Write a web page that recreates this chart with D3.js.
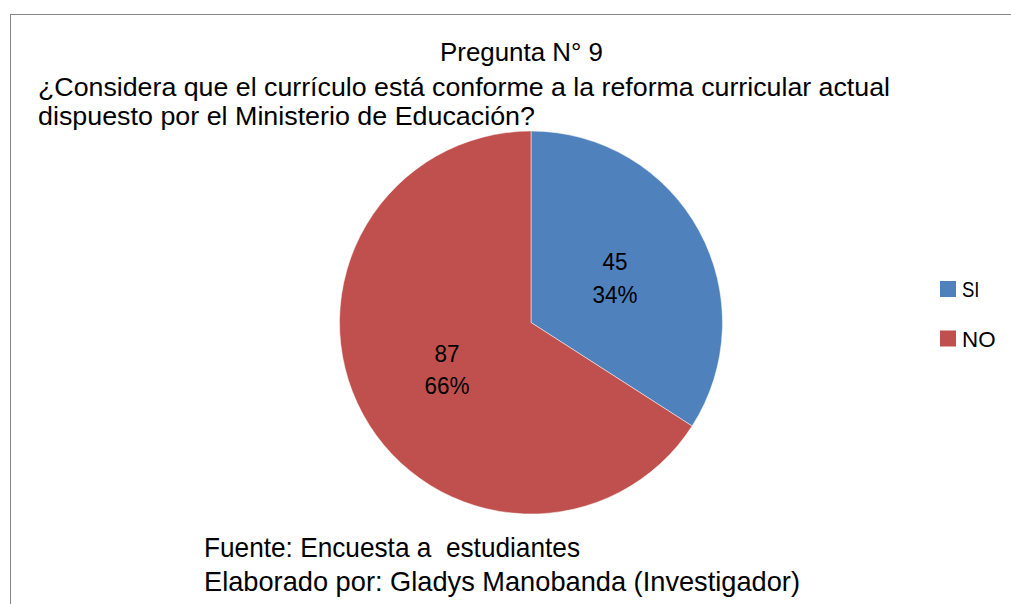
<!DOCTYPE html>
<html><head><meta charset="utf-8">
<script src="https://cdn.jsdelivr.net/npm/d3@7"></script>
<style>body{margin:0;background:#fff}svg{display:block}text{font-family:"Liberation Sans",Arial,sans-serif;fill:#000;white-space:pre}</style>
</head><body><svg id="c" width="1011" height="604"></svg>
<script>
const categories = ["SI", "NO"];
const values = [45, 87];
const colors = ["#4F81BD", "#C0504D"];
const titleLines = ["Pregunta N° 9", "¿Considera que el currículo está conforme a la reforma curricular actual", "dispuesto por el Ministerio de Educación?"];
const footerLines = ["Fuente: Encuesta a  estudiantes", "Elaborado por: Gladys Manobanda (Investigador)"];

const svg = d3.select("#c");
svg.append("rect").attr("x",10.5).attr("y",14.5).attr("width",1100).attr("height",700)
  .attr("fill","#fff").attr("stroke","#868686").attr("stroke-width",1);

// fit a text element to a target width
function fit(sel, w){ sel.attr("textLength", w).attr("lengthAdjust","spacingAndGlyphs"); return sel; }

const cx = 531, cy = 322.5, r = 191.5;
const total = d3.sum(values);
const pie = d3.pie().sort(null).value(d=>d.v);
const data = pie(categories.map((c,i)=>({c, v:values[i], col:colors[i]})));
const arc = d3.arc().innerRadius(0).outerRadius(r);
const g = svg.append("g").attr("transform",`translate(${cx},${cy})`);
g.selectAll("path").data(data).join("path").attr("d",arc).attr("fill",d=>d.data.col)
  .attr("stroke","#fff").attr("stroke-width",0.5);

const lblArc = d3.arc().innerRadius(r*0.5).outerRadius(r*0.5);
g.selectAll("g.lbl").data(data).join("g").attr("class","lbl").each(function(d){
  const [x,y] = lblArc.centroid(d);
  const t = d3.select(this);
  const v = String(d.data.v), p = Math.round(d.data.v/total*100)+"%";
  fit(t.append("text").attr("x",x).attr("y",y-6.5).attr("text-anchor","middle").attr("font-size",24).text(v), 25);
  fit(t.append("text").attr("x",x).attr("y",y+26).attr("text-anchor","middle").attr("font-size",24).text(p), 45);
});

// title
fit(svg.append("text").attr("x",521.5).attr("y",60.5).attr("text-anchor","middle").attr("font-size",25).text(titleLines[0]), 163);
fit(svg.append("text").attr("x",38).attr("y",96).attr("font-size",25).text(titleLines[1]), 852);
fit(svg.append("text").attr("x",38).attr("y",124.5).attr("font-size",25).text(titleLines[2]), 497);

// legend
const legW = [17.5, 33.5];
categories.forEach((c,i)=>{
  svg.append("rect").attr("x",940).attr("y",281+i*49.5).attr("width",16).attr("height",16).attr("fill",colors[i]);
  fit(svg.append("text").attr("x",962).attr("y",297+i*49.5).attr("font-size",22).text(c), legW[i]);
});

// footer
const footW = [376, 596];
footerLines.forEach((t,i)=>{
  fit(svg.append("text").attr("x",204).attr("y",557+i*34).attr("font-size",28).text(t), footW[i]);
});
</script></body></html>
